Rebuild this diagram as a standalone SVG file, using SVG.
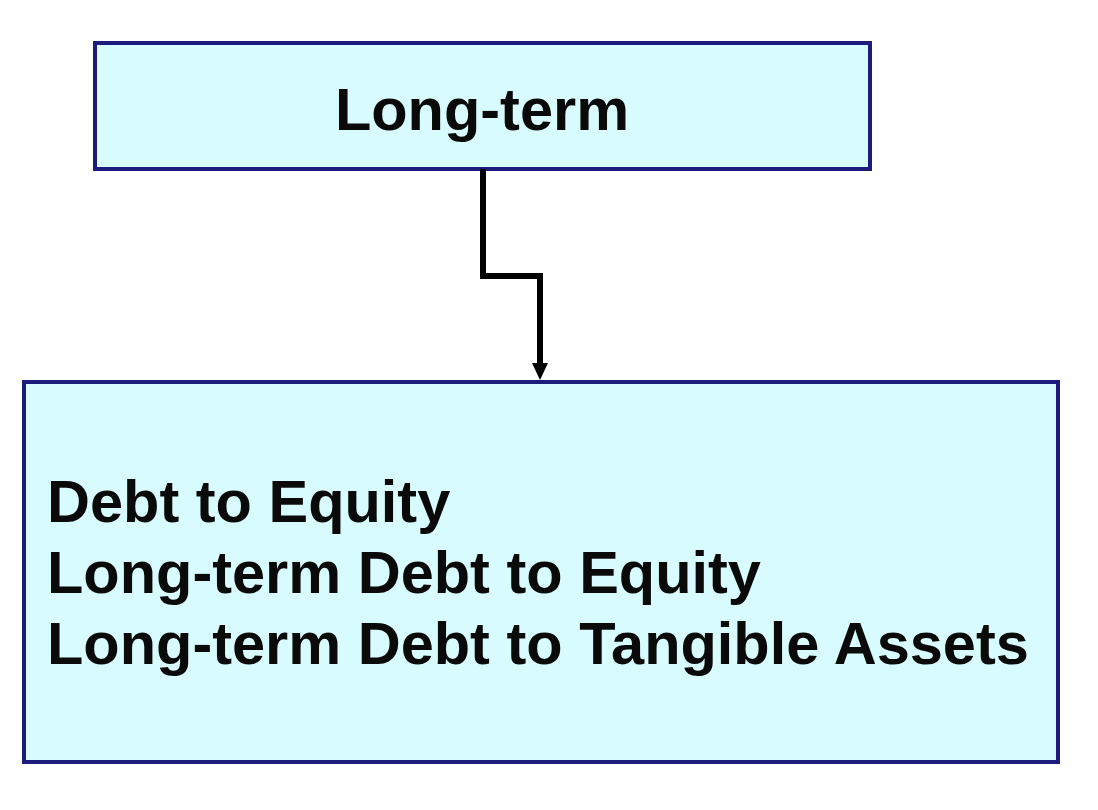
<svg xmlns="http://www.w3.org/2000/svg" width="1098" height="810" viewBox="0 0 1098 810">
<style>
.box{fill:#d8fcfd;stroke:#1c1c7c;stroke-width:4}
.t{font-family:"Liberation Sans",Arial,sans-serif;font-weight:bold;font-size:59.5px;fill:#0a0a0a}
.conn{fill:none;stroke:#000;stroke-width:6}
.head{fill:#000}
</style>
<rect width="1098" height="810" fill="#ffffff"/>
<g id="node-longterm">
<rect class="box" x="95" y="43" width="775" height="126"/>
<text class="t" x="482" y="130" text-anchor="middle">Long-term</text>
</g>
<g id="node-ratios">
<rect class="box" x="24" y="382" width="1034" height="380"/>
<text class="t" x="47" y="522">Debt to Equity</text>
<text class="t" x="47" y="593">Long-term Debt to Equity</text>
<text class="t" x="47" y="664">Long-term Debt to Tangible Assets</text>
</g>
<g id="connectors">
<polyline class="conn" points="483,169 483,276 540,276 540,364"/>
<polygon class="head" points="532,363 548,363 540,380"/>
</g>
</svg>
